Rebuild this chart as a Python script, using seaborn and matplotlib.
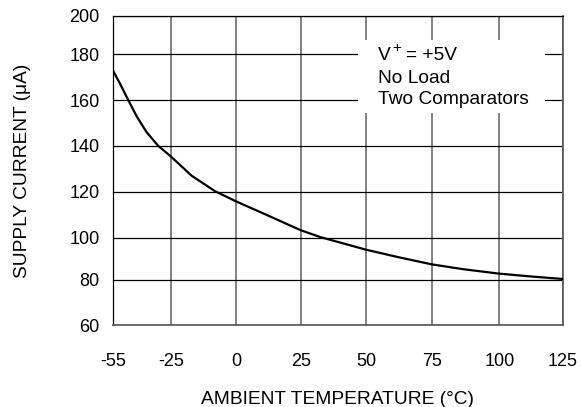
import numpy as np
import pandas as pd
import matplotlib
matplotlib.use("Agg")
import matplotlib.pyplot as plt
import seaborn as sns

# Supply current vs. ambient temperature
temperature_c = [-55, -51.4, -47, -42.7, -37.5, -31.4, -25, -17, -8, 0, 10.4, 25,
                 32.3, 50, 62.2, 75, 86.7, 100, 112.2, 125]
supply_current_ua = [172.9, 167.3, 160, 153.0, 146.0, 140, 135.5, 127, 120.2, 115.8, 110.6,
                     103.2, 100.3, 94.3, 90.8, 87.4, 85.1, 83.0, 81.7, 80.5]

x_ticks = [-55, -25, 0, 25, 50, 75, 100, 125]
y_ticks = [60, 80, 100, 120, 140, 160, 180, 200]

# The graph paper is not evenly ruled: grid positions along each axis
x_grid_pos = [113, 170.7, 236, 301, 366.3, 431.7, 499.3, 562.5]
y_grid_pos = [325, 280, 237.7, 191.7, 146, 100.3, 54.3, 16]

sns.set_theme(style="white")
plt.rcParams["font.family"] = ["Liberation Sans", "DejaVu Sans"]

fig = plt.figure(figsize=(5.81, 4.07), dpi=100)
ax = fig.add_axes([113 / 581, 1 - 325 / 407, (562.5 - 113) / 581, (325 - 16) / 407])

xp = np.array(x_grid_pos)
xt = np.array(x_ticks, dtype=float)
yp = -np.array(y_grid_pos)
yt = np.array(y_ticks, dtype=float)

ax.set_xscale("function", functions=(lambda v: np.interp(v, xt, xp),
                                     lambda p: np.interp(p, xp, xt)))
ax.set_yscale("function", functions=(lambda v: np.interp(v, yt, yp),
                                     lambda p: np.interp(p, yp, yt)))

df = pd.DataFrame({"temp": temperature_c, "current": supply_current_ua})
sns.lineplot(data=df, x="temp", y="current", ax=ax, color="black", lw=1.6, zorder=4)

ax.set_xlim(-55, 125)
ax.set_ylim(60, 200)
ax.set_xticks(x_ticks)
ax.set_yticks(y_ticks)
ax.set_xticklabels([str(t) for t in x_ticks])
ax.set_yticklabels([str(t) for t in y_ticks])
ax.tick_params(axis="both", length=0, labelsize=13, colors="black")
ax.tick_params(axis="x", pad=20)
ax.tick_params(axis="y", pad=9.5)

ax.grid(axis="y", color="black", lw=0.9)
ax.grid(axis="x", color="#777777", lw=1.3)
ax.set_axisbelow(True)
for side in ["top", "left"]:
    ax.spines[side].set_color("black")
    ax.spines[side].set_linewidth(0.9)
for side in ["bottom", "right"]:
    ax.spines[side].set_color("#555555")
    ax.spines[side].set_linewidth(1.2)

ax.set_xlabel("AMBIENT TEMPERATURE (°C)", fontsize=13.8, labelpad=15, color="black")
ax.set_ylabel("SUPPLY CURRENT (μA)", fontsize=13.8, labelpad=28, color="black")

# Conditions note on a white patch over the grid
ax.add_patch(plt.Rectangle((0.545, 0.686), 0.416, 0.236, transform=ax.transAxes,
                           facecolor="white", edgecolor="none", zorder=2))
note_kw = dict(transform=ax.transAxes, va="baseline", ha="left", color="black", zorder=3)
ax.text(0.5895, 0.858, "V", fontsize=13.8, **note_kw)
ax.text(0.621, 0.884, "+", fontsize=11, **note_kw)
ax.text(0.652, 0.858, "= +5V", fontsize=13.8, **note_kw)
ax.text(0.5895, 0.784, "No Load", fontsize=13.8, **note_kw)
ax.text(0.5895, 0.7136, "Two Comparators", fontsize=13.8, **note_kw)

fig.savefig("out.png", dpi=100)
